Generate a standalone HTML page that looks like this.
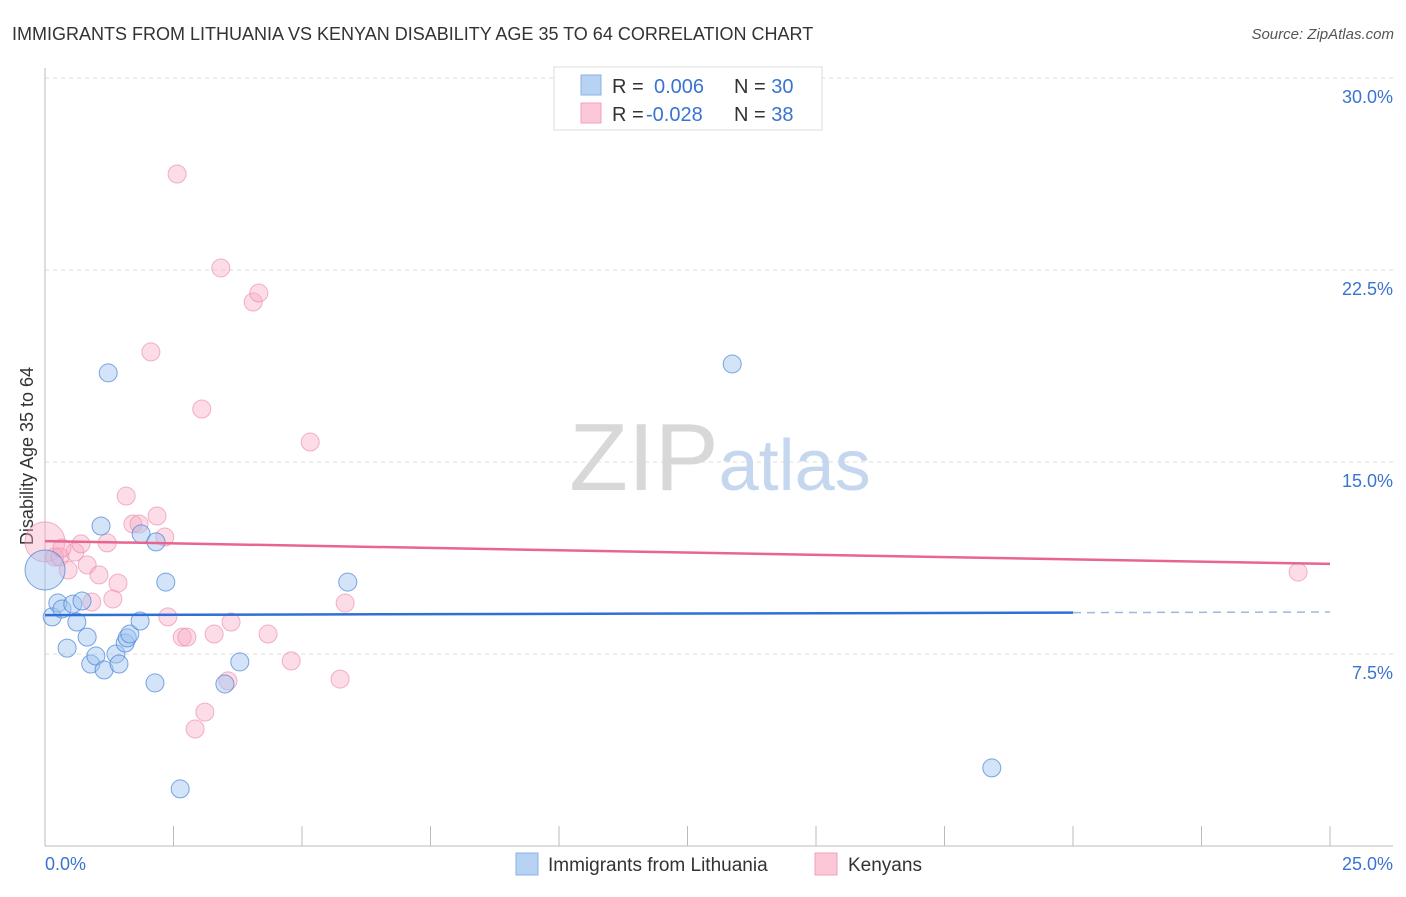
<!DOCTYPE html>
<html><head><meta charset="utf-8"><style>
body{margin:0;background:#fff;font-family:"Liberation Sans",sans-serif}
svg text{font-family:"Liberation Sans",sans-serif}
</style></head><body>
<svg id="c" width="1406" height="892">
<text x="12" y="40" font-size="18" fill="#333">IMMIGRANTS FROM LITHUANIA VS KENYAN DISABILITY AGE 35 TO 64 CORRELATION CHART</text>
<text x="1394" y="39" font-size="15" fill="#555" font-style="italic" text-anchor="end">Source: ZipAtlas.com</text>
<text x="33" y="456" font-size="18" fill="#333" text-anchor="middle" transform="rotate(-90 33 456)">Disability Age 35 to 64</text>
<g id="grid"></g>
<text x="720" y="490" font-size="96" fill="#ddd" text-anchor="middle" font-family="Liberation Serif"><tspan fill="#d8d8d8">ZIP</tspan><tspan fill="#c5d7ee" font-family="Liberation Sans" font-size="72">atlas</tspan></text>
<g id="pts"></g>
<g id="lines"></g>
<g>
<rect x="554" y="67" width="268" height="63" fill="#fff" stroke="#ddd"/>
<rect x="581" y="75" width="20" height="20" fill="#b8d2f4" stroke="#8ab2e6"/>
<rect x="581" y="103" width="20" height="20" fill="#fcc8d8" stroke="#f0a3bc"/>
<text x="612" y="93" font-size="20" fill="#333">R = <tspan fill="#3a74d0" x="654">0.006</tspan><tspan fill="#333" x="734">N = </tspan><tspan fill="#3a74d0">30</tspan></text>
<text x="612" y="121" font-size="20" fill="#333">R = <tspan fill="#3a74d0" x="646">-0.028</tspan><tspan fill="#333" x="734">N = </tspan><tspan fill="#3a74d0"> 38</tspan></text>
</g>
<g>
<rect x="516" y="853" width="22" height="22" fill="#b8d2f4" stroke="#8ab2e6"/>
<text x="548" y="871" font-size="19" fill="#333">Immigrants from Lithuania</text>
<rect x="815" y="853" width="22" height="22" fill="#fcc8d8" stroke="#f0a3bc"/>
<text x="848" y="871" font-size="19" fill="#333">Kenyans</text>
</g>
</svg>
<script>
const blueX=[0,0.14,0.25,0.33,0.43,0.54,0.62,0.72,0.82,0.89,0.99,1.09,1.15,1.23,1.38,1.44,1.56,1.60,1.65,1.85,1.87,2.14,2.16,2.35,3.50,3.79,5.89,13.37,18.42,2.63];
const blueY=[10.78,8.95,9.49,9.26,7.73,9.45,8.75,9.57,8.16,7.11,7.42,12.5,6.88,18.48,7.5,7.11,7.93,8.13,8.28,8.79,12.19,6.37,11.88,10.31,6.33,7.19,10.31,18.83,3.05,2.23];
const pinkX=[0,0.19,0.29,0.45,0.58,0.70,0.82,0.91,1.05,1.21,1.32,1.42,1.58,1.71,1.83,2.06,2.18,2.33,2.39,2.57,2.67,2.76,2.92,3.05,3.11,3.29,3.42,3.56,3.62,4.05,4.16,4.34,4.79,5.16,5.74,5.84,24.38,0.33];
const pinkY=[11.88,11.29,11.29,10.78,11.48,11.8,10.98,9.53,10.59,11.84,9.65,10.27,13.67,12.58,12.58,19.3,12.89,12.07,8.95,26.25,8.16,8.16,4.57,17.07,5.23,8.28,22.58,6.45,8.75,21.25,21.6,8.28,7.23,15.78,6.52,9.49,10.7,11.64];
const yTicks=[7.5,15.0,22.5,30.0];
const blueTrend=[9.02,9.14];
const pinkTrend=[11.91,11.02];
const X=v=>45+v/25*1285, Y=v=>846-v/30*768;
const NS="http://www.w3.org/2000/svg";
function mk(t,a,p){const e=document.createElementNS(NS,t);for(const k in a)e.setAttribute(k,a[k]);p.appendChild(e);return e;}
const g=document.getElementById('grid');
yTicks.forEach(t=>{
 const l=mk('line',{x1:45,x2:1393,y1:Y(t),y2:Y(t),stroke:'#ddd','stroke-dasharray':'4 4'},g);
 
 
 const tx=mk('text',{x:1393,y:Y(t)+25,'font-size':18,fill:'#3a74d0','text-anchor':'end'},g);
 tx.textContent=t.toFixed(1)+'%';
 
 
});
mk('line',{x1:45,x2:45,y1:68,y2:846,stroke:'#bbb'},g);
mk('line',{x1:45,x2:1393,y1:846,y2:846,stroke:'#bbb'},g);
for(let i=0;i<=10;i++){const x=45+i*128.5;mk('line',{x1:x,x2:x,y1:826,y2:846,stroke:'#bbb'},g);}
const x0=mk('text',{x:45,y:870,'font-size':18,fill:'#3a74d0'},g);x0.textContent='0.0%';


const x1=mk('text',{x:1393,y:870,'font-size':18,fill:'#3a74d0','text-anchor':'end'},g);x1.textContent='25.0%';


const P=document.getElementById('pts');
pinkX.forEach((v,i)=>{const c=mk('circle',{cx:X(v),cy:Y(pinkY[i]),r:i==0?20:9,fill:'rgba(248,170,195,0.4)',stroke:'rgba(235,130,165,0.6)'},P);
 
 });
blueX.forEach((v,i)=>{const c=mk('circle',{cx:X(v),cy:Y(blueY[i]),r:i==0?20:9,fill:'rgba(160,195,240,0.45)',stroke:'rgba(70,130,215,0.7)'},P);
 
 });
const L=document.getElementById('lines');
const by=x=>blueTrend[0]+(blueTrend[1]-blueTrend[0])*x/25;
const bl=mk('line',{x1:X(0),y1:Y(by(0)),x2:X(20),y2:Y(by(20)),stroke:'#2f6fd6','stroke-width':2.5},L);


mk('line',{x1:X(20),y1:Y(by(20)),x2:X(25),y2:Y(by(25)),stroke:'#9bb8e0','stroke-width':1.5,'stroke-dasharray':'8 6'},L);
const pl=mk('line',{x1:X(0),y1:Y(pinkTrend[0]),x2:X(25),y2:Y(pinkTrend[1]),stroke:'#e8658f','stroke-width':2.5},L);


</script>
</body></html>
